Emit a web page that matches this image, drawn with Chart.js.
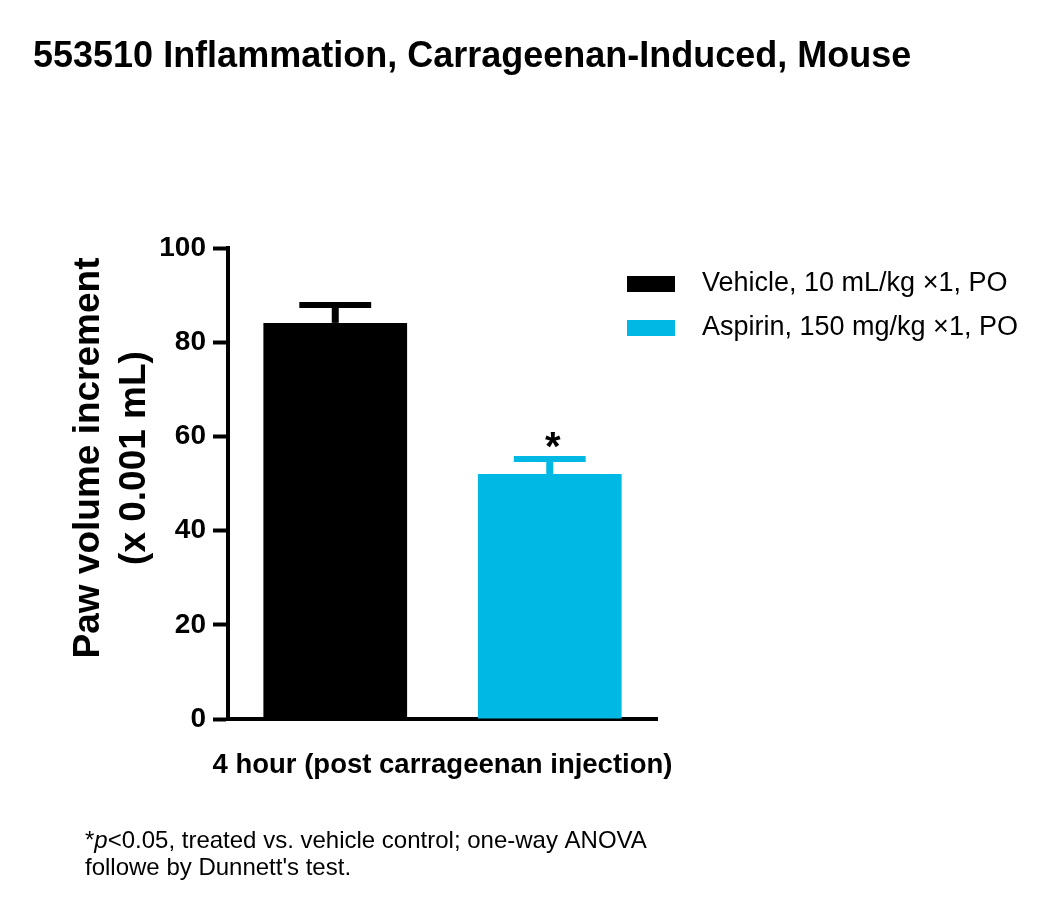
<!DOCTYPE html>
<html>
<head>
<meta charset="utf-8">
<script src="https://cdn.jsdelivr.net/npm/chart.js@4.4.1/dist/chart.umd.min.js"></script>
<style>
  html, body { margin: 0; padding: 0; background: #fff; }
  #wrap { width: 1050px; height: 913px; }
</style>
</head>
<body>
<div id="wrap"><canvas id="paw_chart"></canvas></div>
<script>
// values (mean and SEM, x 0.001 mL)
var categories = ["4 hour (post carrageenan injection)"];
var seriesNames = ["Vehicle, 10 mL/kg \u00d71, PO", "Aspirin, 150 mg/kg \u00d71, PO"];
var vehicleMean = [84.1];
var vehicleSem = [3.8];
var aspirinMean = [52.0];
var aspirinSem = [3.2];
var aspirinMarks = ["*"];
var yTicks = [0, 20, 40, 60, 80, 100];

var chartTitle = "553510 Inflammation, Carrageenan-Induced, Mouse";
var yTitle = ["Paw volume increment", "(x 0.001 mL)"];
var footnote1 = [["*", false], ["p", true], ["<0.05, treated vs. vehicle control; one-way ANOVA", false]];
var footnote2 = "followe by Dunnett's test.";

var FONT = "'Liberation Sans', Arial, Helvetica, sans-serif";
var BLACK = "#000000";
var CYAN = "#00b8e4";

Chart.defaults.font.family = FONT;
Chart.defaults.color = BLACK;

var sems = [vehicleSem, aspirinSem];
var marks = [[], aspirinMarks];

var extras = {
  id: "extras",
  afterDatasetsDraw: function(chart) {
    var ctx = chart.ctx;
    var y = chart.scales.y;
    chart.data.datasets.forEach(function(ds, i) {
      var meta = chart.getDatasetMeta(i);
      meta.data.forEach(function(bar, j) {
        var top = y.getPixelForValue(ds.data[j] + sems[i][j]);
        var half = bar.width / 4;
        ctx.save();
        ctx.strokeStyle = ds.backgroundColor;
        ctx.lineWidth = 7;
        ctx.beginPath();
        ctx.moveTo(bar.x, bar.y);
        ctx.lineTo(bar.x, top);
        ctx.stroke();
        ctx.lineWidth = 6;
        ctx.beginPath();
        ctx.moveTo(bar.x - half, top);
        ctx.lineTo(bar.x + half, top);
        ctx.stroke();
        // significance mark
        if (marks[i][j]) {
          ctx.fillStyle = BLACK;
          ctx.font = "bold 40px " + FONT;
          ctx.textAlign = "center";
          ctx.textBaseline = "alphabetic";
          ctx.fillText(marks[i][j], bar.x + 3, top + 1);
        }
        ctx.restore();
      });
    });
  },
  afterDraw: function(chart) {
    var ctx = chart.ctx;
    ctx.save();
    ctx.fillStyle = BLACK;

    // title
    ctx.font = "bold 36px " + FONT;
    ctx.textAlign = "left";
    ctx.textBaseline = "alphabetic";
    ctx.fillText(chartTitle, 33, 67);

    // y axis title, two lines, rotated
    ctx.save();
    ctx.translate(0, 458);
    ctx.rotate(-Math.PI / 2);
    ctx.font = "bold 37px " + FONT;
    ctx.textAlign = "center";
    ctx.fillText(yTitle[0], 0, 99);
    ctx.fillText(yTitle[1], 0, 145);
    ctx.restore();

    // legend
    chart.data.datasets.forEach(function(ds, i) {
      var cy = 284 + i * 44;
      ctx.fillStyle = ds.backgroundColor;
      ctx.fillRect(627, cy - 8, 48, 16);
      ctx.fillStyle = BLACK;
      ctx.font = "27px " + FONT;
      ctx.textAlign = "left";
      ctx.textBaseline = "middle";
      ctx.fillText(ds.label, 702, cy);
    });

    // footnote
    ctx.textBaseline = "alphabetic";
    var x = 85;
    footnote1.forEach(function(p) {
      ctx.font = (p[1] ? "italic " : "") + "24px " + FONT;
      ctx.fillText(p[0], x, 848);
      x += ctx.measureText(p[0]).width;
    });
    ctx.font = "24px " + FONT;
    ctx.fillText(footnote2, 85, 875);
    ctx.restore();
  }
};

new Chart(document.getElementById("paw_chart"), {
  type: "bar",
  data: {
    labels: categories,
    datasets: [
      { label: seriesNames[0], data: vehicleMean, backgroundColor: BLACK, borderWidth: 0 },
      { label: seriesNames[1], data: aspirinMean, backgroundColor: CYAN, borderWidth: 0 }
    ]
  },
  options: {
    responsive: true,
    maintainAspectRatio: false,
    animation: false,
    events: [],
    layout: { padding: { top: 248, right: 393, bottom: 134, left: 0 } },
    datasets: { bar: { barPercentage: 0.67, categoryPercentage: 1.0 } },
    plugins: { legend: { display: false }, title: { display: false }, tooltip: { enabled: false } },
    scales: {
      x: {
        border: { display: true, color: BLACK, width: 4 },
        grid: { display: false, drawTicks: false },
        ticks: { color: BLACK, padding: 30, font: { size: 27.5, weight: "bold" } },
        afterFit: function(scale) { scale.height = 60; }
      },
      y: {
        min: 0,
        max: 100,
        afterBuildTicks: function(scale) {
          scale.ticks = yTicks.map(function(v) { return { value: v }; });
        },
        border: { display: true, color: BLACK, width: 4 },
        grid: { display: true, drawOnChartArea: false, drawTicks: true, tickLength: 15, tickWidth: 4, tickColor: BLACK },
        ticks: { color: BLACK, padding: 7, font: { size: 28, weight: "bold" } },
        afterFit: function(scale) { scale.width = 228; }
      }
    }
  },
  plugins: [extras]
});
</script>
</body>
</html>
